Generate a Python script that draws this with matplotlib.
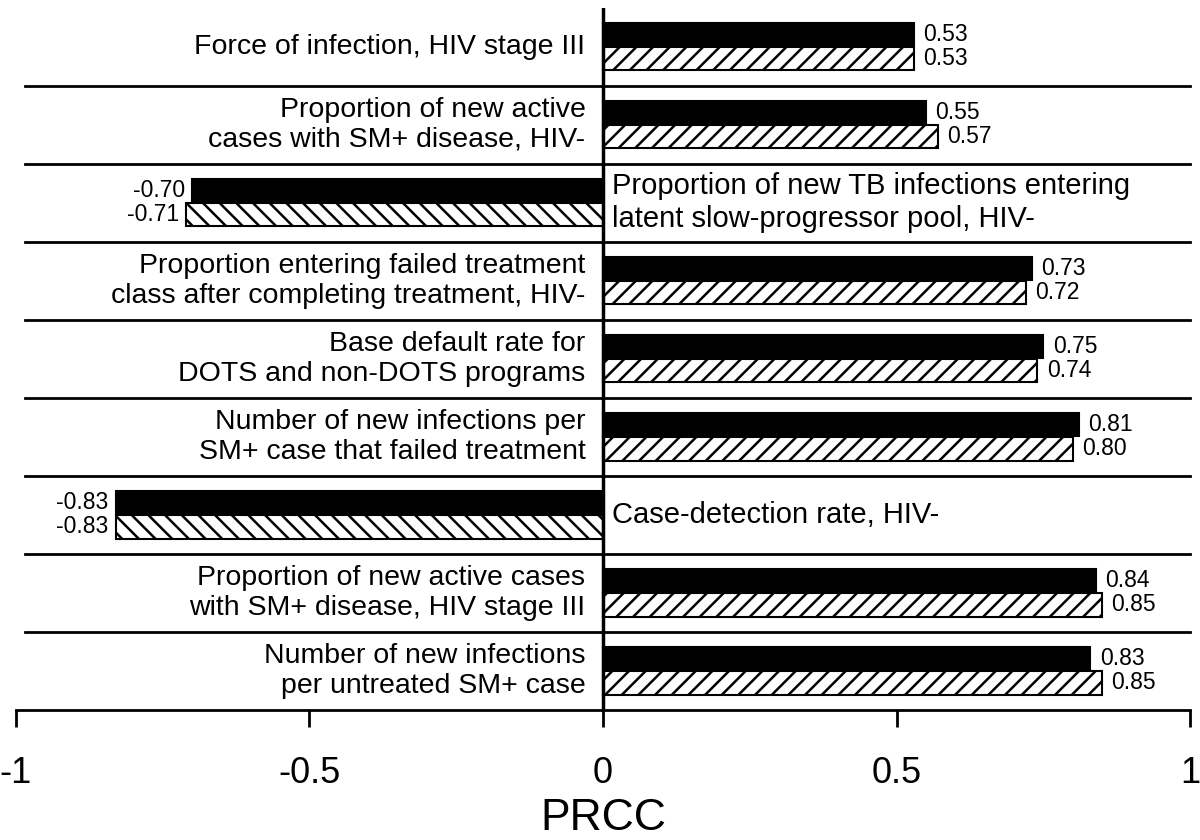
import matplotlib
matplotlib.use("Agg")
import matplotlib.pyplot as plt
import numpy as np

plt.rcParams["font.family"] = ["Liberation Sans", "DejaVu Sans"]
plt.rcParams["hatch.linewidth"] = 1.8
plt.rcParams["axes.unicode_minus"] = False

# parameters, top to bottom
labels = [
    "Force of infection, HIV stage III",
    "Proportion of new active\ncases with SM+ disease, HIV-",
    "Proportion of new TB infections entering\nlatent slow-progressor pool, HIV-",
    "Proportion entering failed treatment\nclass after completing treatment, HIV-",
    "Base default rate for\nDOTS and non-DOTS programs",
    "Number of new infections per\nSM+ case that failed treatment",
    "Case-detection rate, HIV-",
    "Proportion of new active cases\nwith SM+ disease, HIV stage III",
    "Number of new infections\nper untreated SM+ case",
]
prcc_solid = [0.53, 0.55, -0.70, 0.73, 0.75, 0.81, -0.83, 0.84, 0.83]
prcc_hatched = [0.53, 0.57, -0.71, 0.72, 0.74, 0.80, -0.83, 0.85, 0.85]

tick_vals = [-1, -0.5, 0, 0.5, 1]
tick_text = ["-1", "-0.5", "0", "0.5", "1"]

n = len(labels)
centers = n - 0.5 - np.arange(n)
off = 0.155
bh = 0.30

fig = plt.figure(figsize=(12, 8.4), dpi=100)
ax = fig.add_axes([0.0133, 0.155, 0.9784, 0.836])
ax.set_xlim(-1, 1)
ax.set_ylim(0, n)

for i, (c, a, b) in enumerate(zip(centers, prcc_solid, prcc_hatched)):
    ax.barh(c + off, a, height=bh, color="black", edgecolor="black", linewidth=1.5)
    ax.barh(c - off, b, height=bh, color="white", edgecolor="black", linewidth=1.5,
            hatch="//" if b > 0 else "\\\\")
    for v, yy in ((a, c + off), (b, c - off)):
        if v > 0:
            ax.text(v + 0.016, yy, f"{v:.2f}", ha="left", va="center", fontsize=16.5)
        else:
            ax.text(v - 0.012, yy, f"{v:.2f}", ha="right", va="center", fontsize=16.5)
    if a > 0:
        ax.text(-0.03, c, labels[i], ha="right", va="center", fontsize=20.5, linespacing=1.2)
    else:
        ax.text(0.016, c, labels[i], ha="left", va="center", fontsize=21, linespacing=1.2)

# row separators
for k in range(1, n):
    ax.plot([-0.985, 1.0], [k, k], color="black", lw=2, clip_on=False)

ax.axvline(0, color="black", lw=2.5)

for s in ("top", "right", "left"):
    ax.spines[s].set_visible(False)
ax.spines["bottom"].set_linewidth(2)
ax.set_yticks([])
ax.set_xticks(tick_vals)
ax.set_xticklabels(tick_text)
ax.tick_params(axis="x", direction="out", length=12, width=2, labelsize=26, pad=21)
ax.set_xlabel("PRCC", fontsize=32, labelpad=5)

fig.savefig("out.png", dpi=100)
